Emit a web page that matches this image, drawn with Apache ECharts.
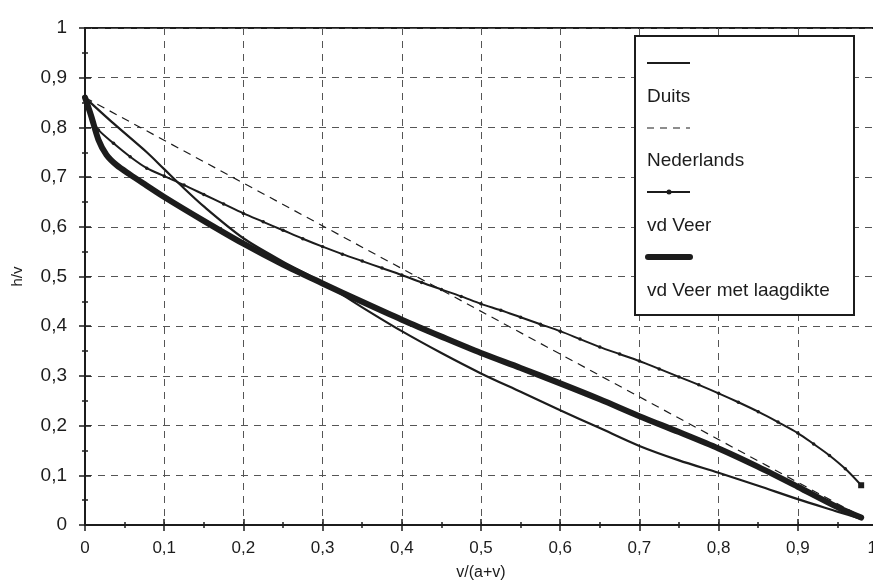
<!DOCTYPE html>
<html><head><meta charset="utf-8">
<script src="https://cdn.jsdelivr.net/npm/echarts@6/dist/echarts.min.js"></script>
<style>html,body{margin:0;padding:0;background:#fff}#c{width:873px;height:582px}</style>
</head><body><div id="c"></div>
<script>
// ---- data ----
var xTicks = [0, 0.1, 0.2, 0.3, 0.4, 0.5, 0.6, 0.7, 0.8, 0.9, 1];
var yTicks = [0, 0.1, 0.2, 0.3, 0.4, 0.5, 0.6, 0.7, 0.8, 0.9, 1];
var seriesNames = ['Duits', 'Nederlands', 'vd Veer', 'vd Veer met laagdikte'];

var duitsX = [0, 0.036, 0.078, 0.1, 0.12, 0.15, 0.2, 0.25, 0.3, 0.35, 0.4, 0.45, 0.5, 0.55, 0.6, 0.65, 0.7, 0.75, 0.8, 0.85, 0.9, 0.95, 0.98];
var duitsY = [0.86, 0.808, 0.75, 0.716, 0.685, 0.641, 0.577, 0.53, 0.488, 0.438, 0.39, 0.346, 0.305, 0.268, 0.231, 0.195, 0.159, 0.13, 0.105, 0.079, 0.052, 0.027, 0.012];

var nedX = [0, 0.98];
var nedY = [0.86, 0.017];

var veerX = [0, 0.008, 0.017, 0.036, 0.057, 0.078, 0.1, 0.125, 0.15, 0.175, 0.2, 0.225, 0.25, 0.275, 0.3, 0.325, 0.35, 0.375, 0.4, 0.425, 0.45, 0.475, 0.5, 0.525, 0.55, 0.575, 0.6, 0.625, 0.65, 0.675, 0.7, 0.725, 0.75, 0.775, 0.8, 0.825, 0.85, 0.875, 0.9, 0.92, 0.94, 0.96, 0.98];
var veerY = [0.86, 0.818, 0.795, 0.768, 0.741, 0.718, 0.702, 0.684, 0.665, 0.646, 0.627, 0.61, 0.593, 0.576, 0.56, 0.545, 0.531, 0.517, 0.503, 0.488, 0.474, 0.46, 0.445, 0.432, 0.418, 0.404, 0.39, 0.374, 0.358, 0.344, 0.33, 0.314, 0.298, 0.282, 0.265, 0.247, 0.228, 0.207, 0.185, 0.163, 0.14, 0.113, 0.08];

var laagX = [0, 0.008, 0.017, 0.027, 0.04, 0.057, 0.075, 0.1, 0.15, 0.2, 0.25, 0.3, 0.35, 0.4, 0.45, 0.5, 0.55, 0.6, 0.65, 0.7, 0.75, 0.8, 0.85, 0.9, 0.95, 0.98];
var laagY = [0.86, 0.822, 0.775, 0.745, 0.724, 0.705, 0.686, 0.66, 0.612, 0.566, 0.524, 0.486, 0.449, 0.413, 0.379, 0.346, 0.316, 0.285, 0.253, 0.219, 0.187, 0.154, 0.117, 0.077, 0.036, 0.015];

function pairs(xs, ys) { return xs.map(function (x, i) { return [x, ys[i]]; }); }
function fmt(v) { return String(Math.round(v * 10) / 10).replace('.', ','); }

var INK = '#1c1c1c';
var FONT = 'Liberation Sans, Arial, sans-serif';

var chart = echarts.init(document.getElementById('c'), null, { renderer: 'canvas' });

var gridL = 85, gridT = 28, gridW = 792, gridH = 497;

var axisCommon = {
  type: 'value', min: 0, max: 1, interval: 0.1,
  axisLine: { show: true, onZero: false, lineStyle: { color: INK, width: 2 } },
  splitLine: { show: true, lineStyle: { color: '#555', width: 1, type: [7, 6] } },
  minorTick: { show: true, splitNumber: 2, length: 3, lineStyle: { color: INK, width: 1.5 } },
  axisTick: { show: true, length: 6, lineStyle: { color: INK, width: 1.5 } }
};

var option = {
  backgroundColor: '#fff',
  animation: false,
  grid: { left: gridL, top: gridT, width: gridW, height: gridH, show: true, borderColor: INK, borderWidth: 2,
          backgroundColor: 'transparent', containLabel: false, outerBoundsMode: 'none' },
  xAxis: [
    Object.assign({}, axisCommon, {
      position: 'bottom',
      name: 'v/(a+v)', nameLocation: 'middle', nameGap: 40,
      nameTextStyle: { fontFamily: FONT, fontSize: 16, color: INK },
      axisLabel: { fontFamily: FONT, fontSize: 17, color: INK, margin: 15, formatter: fmt, showMaxLabel: true, alignMaxLabel: 'right' }
    }),
    Object.assign({}, axisCommon, {
      position: 'bottom', offset: 0,
      axisLine: { show: false },
      splitLine: { show: false },
      axisLabel: { show: false },
      axisTick: { show: true, inside: true, length: 6, lineStyle: { color: INK, width: 1.5 } },
      minorTick: { show: true, splitNumber: 2, length: 3, lineStyle: { color: INK, width: 1.5 } }
    })
  ],
  yAxis: [
    Object.assign({}, axisCommon, {
      position: 'left',
      name: 'h/v', nameLocation: 'middle', nameGap: 60, nameRotate: 90,
      nameTextStyle: { fontFamily: FONT, fontSize: 15, color: INK },
      axisLabel: { fontFamily: FONT, fontSize: 19, color: INK, margin: 18, formatter: fmt }
    }),
    Object.assign({}, axisCommon, {
      position: 'left', offset: 0,
      axisLine: { show: false },
      splitLine: { show: false },
      axisLabel: { show: false },
      axisTick: { show: true, inside: true, length: 6, lineStyle: { color: INK, width: 1.5 } },
      minorTick: { show: true, splitNumber: 2, length: 3, lineStyle: { color: INK, width: 1.5 } }
    })
  ],
  series: [
    { name: seriesNames[0], type: 'line', data: pairs(duitsX, duitsY), smooth: 0.3, symbol: 'none',
      lineStyle: { color: INK, width: 2.2 }, z: 3 },
    { name: seriesNames[1], type: 'line', data: pairs(nedX, nedY), symbol: 'none',
      lineStyle: { color: INK, width: 1.2, type: [8, 6] }, z: 2 },
    { name: seriesNames[2], type: 'line', data: pairs(veerX, veerY), smooth: 0.3, symbol: 'circle', symbolSize: 3.5,
      itemStyle: { color: INK }, lineStyle: { color: INK, width: 2 }, z: 4 },
    { name: seriesNames[3], type: 'line', data: pairs(laagX, laagY), smooth: 0.3, symbol: 'none',
      lineStyle: { color: INK, width: 6, cap: 'round', join: 'round' }, z: 5 }
  ],
  graphic: [
    { type: 'rect', shape: { x: 635, y: 36, width: 219, height: 279 }, style: { fill: '#fff', stroke: INK, lineWidth: 2 }, z: 100 },
    { type: 'line', shape: { x1: 647, y1: 63, x2: 690, y2: 63 }, style: { stroke: INK, lineWidth: 2 }, z: 101 },
    { type: 'text', style: { x: 647, y: 97, text: seriesNames[0], font: '19px ' + FONT, fill: INK, textVerticalAlign: 'middle' }, z: 101 },
    { type: 'line', shape: { x1: 647, y1: 128, x2: 690, y2: 128 }, style: { stroke: INK, lineWidth: 1.2, lineDash: [7, 6] }, z: 101 },
    { type: 'text', style: { x: 647, y: 161, text: seriesNames[1], font: '19px ' + FONT, fill: INK, textVerticalAlign: 'middle' }, z: 101 },
    { type: 'line', shape: { x1: 647, y1: 192, x2: 690, y2: 192 }, style: { stroke: INK, lineWidth: 2 }, z: 101 },
    { type: 'circle', shape: { cx: 669, cy: 192, r: 2.5 }, style: { fill: INK }, z: 102 },
    { type: 'text', style: { x: 647, y: 226, text: seriesNames[2], font: '19px ' + FONT, fill: INK, textVerticalAlign: 'middle' }, z: 101 },
    { type: 'line', shape: { x1: 648, y1: 257, x2: 690, y2: 257 }, style: { stroke: INK, lineWidth: 6, lineCap: 'round' }, z: 101 },
    { type: 'text', style: { x: 647, y: 291, text: seriesNames[3], font: '19px ' + FONT, fill: INK, textVerticalAlign: 'middle' }, z: 101 }
  ]
};
// end marker of vd Veer series (square at last point)
option.series[2].markPoint = {
  symbol: 'rect', symbolSize: 6, itemStyle: { color: INK }, label: { show: false },
  data: [{ coord: [veerX[veerX.length - 1], veerY[veerY.length - 1]] }]
};
chart.setOption(option);
</script>
</body></html>
